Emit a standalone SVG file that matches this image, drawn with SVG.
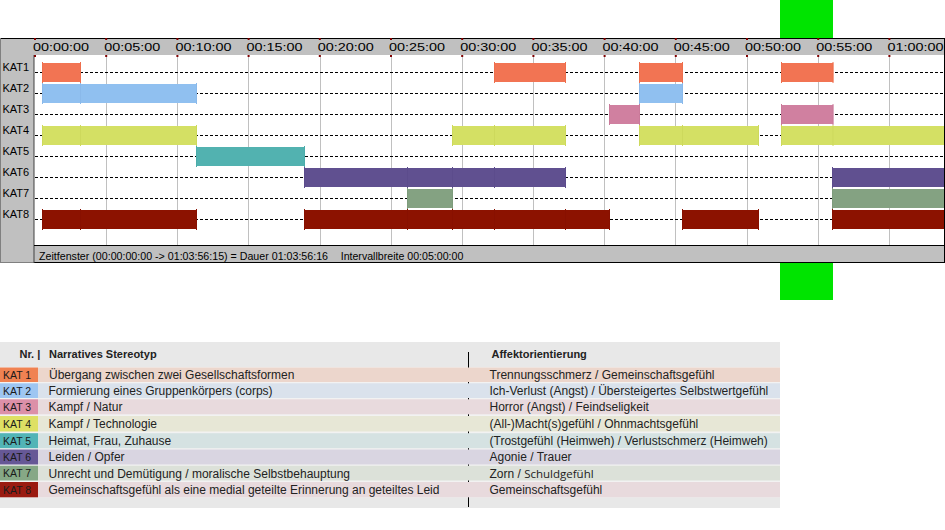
<svg xmlns="http://www.w3.org/2000/svg" width="945" height="530" viewBox="0 0 945 530">
<style>
.t{font-family:"Liberation Sans",Arial,sans-serif;font-size:11px;fill:#000}
.grid{stroke:#c0c0c0;stroke-width:1}
.row{stroke:#000;stroke-width:1;stroke-dasharray:3 2}
.tick{fill:#800000}
.k1 rect{fill:#f27453}.k1 line{stroke:#ee6e4c}
.k2 rect{fill:#90c0f0}.k2 line{stroke:#8ab9ea}
.k3 rect{fill:#d080a0}.k3 line{stroke:#ca7a9a}
.k4 rect{fill:#d4e064}.k4 line{stroke:#cdd95c}
.k5 rect{fill:#52b2b0}.k5 line{stroke:#4cacaa}
.k6 rect{fill:#605090}.k6 line{stroke:#5c4c8c}
.k7 rect{fill:#84a282}.k7 line{stroke:#7e9c7c}
.k8 rect{fill:#8c1200}.k8 line{stroke:#881000}
.bars line{stroke-width:1}
.lg{font-family:"Liberation Sans",Arial,sans-serif;font-size:12px;fill:#222}
.lh{font-family:"Liberation Sans",Arial,sans-serif;font-size:11px;font-weight:bold;fill:#222}
.lk{font-family:"Liberation Sans",Arial,sans-serif;font-size:10.5px;fill:#1a1a1a}
</style>

<rect id="green-marker" x="780" y="0" width="53" height="300" fill="#00e400"/>

<g id="timeline-panel">
  <rect x="0" y="38" width="945" height="225" fill="#c0c0c0"/>
  <rect x="34" y="55" width="910" height="190.5" fill="#fff"/>
  <line x1="0" y1="38.5" x2="945" y2="38.5" stroke="#000"/>
  <line x1="944.5" y1="38" x2="944.5" y2="263" stroke="#000"/>
  <line x1="34" y1="262.5" x2="945" y2="262.5" stroke="#000"/>
  <line x1="0" y1="262.5" x2="34" y2="262.5" stroke="#808080"/>
  <line x1="0.5" y1="38" x2="0.5" y2="263" stroke="#808080"/>
  <line x1="34" y1="55" x2="34" y2="263" stroke="#404040"/>
  <line x1="34" y1="245.5" x2="945" y2="245.5" stroke="#000"/>
</g>

<g id="gridlines" class="grid">
  <line x1="106.5" y1="55" x2="106.5" y2="245"/>
  <line x1="177.5" y1="55" x2="177.5" y2="245"/>
  <line x1="248.5" y1="55" x2="248.5" y2="245"/>
  <line x1="320.5" y1="55" x2="320.5" y2="245"/>
  <line x1="391.5" y1="55" x2="391.5" y2="245"/>
  <line x1="462.5" y1="55" x2="462.5" y2="245"/>
  <line x1="533.5" y1="55" x2="533.5" y2="245"/>
  <line x1="604.5" y1="55" x2="604.5" y2="245"/>
  <line x1="675.5" y1="55" x2="675.5" y2="245"/>
  <line x1="747.5" y1="55" x2="747.5" y2="245"/>
  <line x1="818.5" y1="55" x2="818.5" y2="245"/>
  <line x1="889.5" y1="55" x2="889.5" y2="245"/>
</g>

<g id="time-ticks" class="tick">
  <rect x="34" y="38" width="2" height="2"/><rect x="34" y="55" width="2" height="2"/>
  <rect x="105.2" y="38" width="2" height="2"/><rect x="105.2" y="55" width="2" height="2"/>
  <rect x="176.4" y="38" width="2" height="2"/><rect x="176.4" y="55" width="2" height="2"/>
  <rect x="247.6" y="38" width="2" height="2"/><rect x="247.6" y="55" width="2" height="2"/>
  <rect x="318.8" y="38" width="2" height="2"/><rect x="318.8" y="55" width="2" height="2"/>
  <rect x="390" y="38" width="2" height="2"/><rect x="390" y="55" width="2" height="2"/>
  <rect x="461.2" y="38" width="2" height="2"/><rect x="461.2" y="55" width="2" height="2"/>
  <rect x="532.4" y="38" width="2" height="2"/><rect x="532.4" y="55" width="2" height="2"/>
  <rect x="603.6" y="38" width="2" height="2"/><rect x="603.6" y="55" width="2" height="2"/>
  <rect x="674.8" y="38" width="2" height="2"/><rect x="674.8" y="55" width="2" height="2"/>
  <rect x="746" y="38" width="2" height="2"/><rect x="746" y="55" width="2" height="2"/>
  <rect x="817.2" y="38" width="2" height="2"/><rect x="817.2" y="55" width="2" height="2"/>
  <rect x="888.4" y="38" width="2" height="2"/><rect x="888.4" y="55" width="2" height="2"/>
</g>

<g id="time-labels" class="t">
  <text x="33" y="51" textLength="56" lengthAdjust="spacingAndGlyphs">00:00:00</text>
  <text x="104.2" y="51" textLength="56" lengthAdjust="spacingAndGlyphs">00:05:00</text>
  <text x="175.4" y="51" textLength="56" lengthAdjust="spacingAndGlyphs">00:10:00</text>
  <text x="246.6" y="51" textLength="56" lengthAdjust="spacingAndGlyphs">00:15:00</text>
  <text x="317.8" y="51" textLength="56" lengthAdjust="spacingAndGlyphs">00:20:00</text>
  <text x="389" y="51" textLength="56" lengthAdjust="spacingAndGlyphs">00:25:00</text>
  <text x="460.2" y="51" textLength="56" lengthAdjust="spacingAndGlyphs">00:30:00</text>
  <text x="531.4" y="51" textLength="56" lengthAdjust="spacingAndGlyphs">00:35:00</text>
  <text x="602.6" y="51" textLength="56" lengthAdjust="spacingAndGlyphs">00:40:00</text>
  <text x="673.8" y="51" textLength="56" lengthAdjust="spacingAndGlyphs">00:45:00</text>
  <text x="745" y="51" textLength="56" lengthAdjust="spacingAndGlyphs">00:50:00</text>
  <text x="816.2" y="51" textLength="56" lengthAdjust="spacingAndGlyphs">00:55:00</text>
  <text x="887.4" y="51" textLength="56" lengthAdjust="spacingAndGlyphs">01:00:00</text>
</g>

<g id="row-labels" class="t">
  <text x="2.5" y="71">KAT1</text>
  <text x="2.5" y="92">KAT2</text>
  <text x="2.5" y="113">KAT3</text>
  <text x="2.5" y="134">KAT4</text>
  <text x="2.5" y="155">KAT5</text>
  <text x="2.5" y="176">KAT6</text>
  <text x="2.5" y="197">KAT7</text>
  <text x="2.5" y="218">KAT8</text>
</g>

<g id="row-lines" class="row">
  <line x1="35" y1="72.5" x2="944" y2="72.5"/>
  <line x1="35" y1="93.5" x2="944" y2="93.5"/>
  <line x1="35" y1="114.5" x2="944" y2="114.5"/>
  <line x1="35" y1="135.5" x2="944" y2="135.5"/>
  <line x1="35" y1="156.5" x2="944" y2="156.5"/>
  <line x1="35" y1="177.5" x2="944" y2="177.5"/>
  <line x1="35" y1="198.5" x2="944" y2="198.5"/>
  <line x1="35" y1="219.5" x2="944" y2="219.5"/>
</g>

<g id="bars" class="bars">
  <g id="kat1-bars" class="k1">
    <rect x="42" y="63" width="38.7" height="19"/>
    <rect x="494.3" y="63" width="71.4" height="19"/>
    <rect x="639.5" y="63" width="43" height="19"/>
    <rect x="781.3" y="63" width="52" height="19"/>
    <line x1="42.5" y1="62" x2="42.5" y2="83"/><line x1="80.5" y1="62" x2="80.5" y2="83"/>
    <line x1="494.5" y1="62" x2="494.5" y2="83"/><line x1="565.5" y1="62" x2="565.5" y2="83"/>
    <line x1="639.5" y1="62" x2="639.5" y2="83"/><line x1="682.5" y1="62" x2="682.5" y2="83"/>
    <line x1="781.5" y1="62" x2="781.5" y2="83"/><line x1="833" y1="62" x2="833" y2="83"/>
  </g>
  <g id="kat2-bars" class="k2">
    <rect x="42" y="84" width="154.7" height="19"/>
    <rect x="639.5" y="84" width="43" height="19"/>
    <line x1="42.5" y1="83" x2="42.5" y2="104"/><line x1="80.5" y1="83" x2="80.5" y2="104"/>
    <line x1="196.5" y1="83" x2="196.5" y2="104"/>
    <line x1="639.5" y1="83" x2="639.5" y2="104"/><line x1="682.5" y1="83" x2="682.5" y2="104"/>
  </g>
  <g id="kat3-bars" class="k3">
    <rect x="609.5" y="105" width="30" height="19"/>
    <rect x="781.3" y="105" width="52" height="19"/>
    <line x1="609.5" y1="104" x2="609.5" y2="125"/><line x1="639.5" y1="104" x2="639.5" y2="125"/>
    <line x1="781.5" y1="104" x2="781.5" y2="125"/><line x1="833" y1="104" x2="833" y2="125"/>
  </g>
  <g id="kat4-bars" class="k4">
    <rect x="42" y="126" width="154.7" height="19"/>
    <rect x="452.3" y="126" width="113.4" height="19"/>
    <rect x="639.5" y="126" width="119.2" height="19"/>
    <rect x="781.3" y="126" width="162.7" height="19"/>
    <line x1="42.5" y1="125" x2="42.5" y2="146"/><line x1="80.5" y1="125" x2="80.5" y2="146"/>
    <line x1="196.5" y1="125" x2="196.5" y2="146"/>
    <line x1="452.5" y1="125" x2="452.5" y2="146"/><line x1="494.5" y1="125" x2="494.5" y2="146"/>
    <line x1="565.5" y1="125" x2="565.5" y2="146"/>
    <line x1="639.5" y1="125" x2="639.5" y2="146"/><line x1="682.5" y1="125" x2="682.5" y2="146"/>
    <line x1="758.5" y1="125" x2="758.5" y2="146"/>
    <line x1="781.5" y1="125" x2="781.5" y2="146"/><line x1="833" y1="125" x2="833" y2="146"/>
  </g>
  <g id="kat5-bars" class="k5">
    <rect x="196.5" y="147" width="108" height="19"/>
    <line x1="196.5" y1="146" x2="196.5" y2="167"/><line x1="304.5" y1="146" x2="304.5" y2="167"/>
  </g>
  <g id="kat6-bars" class="k6">
    <rect x="304.3" y="168" width="261.4" height="19"/>
    <rect x="832.5" y="168" width="111.5" height="19"/>
    <line x1="304.5" y1="167" x2="304.5" y2="188"/><line x1="407.5" y1="167" x2="407.5" y2="188"/>
    <line x1="452.5" y1="167" x2="452.5" y2="188"/><line x1="494.5" y1="167" x2="494.5" y2="188"/>
    <line x1="565.5" y1="167" x2="565.5" y2="188"/><line x1="832.5" y1="167" x2="832.5" y2="188"/>
  </g>
  <g id="kat7-bars" class="k7">
    <rect x="407.3" y="189" width="45" height="19"/>
    <rect x="832.5" y="189" width="111.5" height="19"/>
    <line x1="407.5" y1="188" x2="407.5" y2="209"/><line x1="452.5" y1="188" x2="452.5" y2="209"/>
    <line x1="832.5" y1="188" x2="832.5" y2="209"/>
  </g>
  <g id="kat8-bars" class="k8">
    <rect x="42" y="210" width="154.7" height="19"/>
    <rect x="304.3" y="210" width="305.4" height="19"/>
    <rect x="682.3" y="210" width="76.4" height="19"/>
    <rect x="832.5" y="210" width="111.5" height="19"/>
    <line x1="42.5" y1="209" x2="42.5" y2="230"/><line x1="80.5" y1="209" x2="80.5" y2="230"/>
    <line x1="196.5" y1="209" x2="196.5" y2="230"/>
    <line x1="304.5" y1="209" x2="304.5" y2="230"/><line x1="407.5" y1="209" x2="407.5" y2="230"/>
    <line x1="452.5" y1="209" x2="452.5" y2="230"/><line x1="494.5" y1="209" x2="494.5" y2="230"/>
    <line x1="565.5" y1="209" x2="565.5" y2="230"/><line x1="609.5" y1="209" x2="609.5" y2="230"/>
    <line x1="682.5" y1="209" x2="682.5" y2="230"/><line x1="758.5" y1="209" x2="758.5" y2="230"/>
    <line x1="832.5" y1="209" x2="832.5" y2="230"/>
  </g>
</g>

<g id="status-bar" class="t">
  <text x="39" y="260" textLength="289" lengthAdjust="spacingAndGlyphs">Zeitfenster (00:00:00:00 -&gt; 01:03:56:15) = Dauer 01:03:56:16</text>
  <text x="340.7" y="260" textLength="122.6" lengthAdjust="spacingAndGlyphs">Intervallbreite 00:05:00:00</text>
</g>

<g id="legend">
  <rect x="0" y="342" width="780" height="166" fill="#e8e8e8"/>
  <rect x="0" y="367" width="780" height="130.5" fill="#f2f2f2"/>
  <g id="legend-header" class="lh">
    <text x="19.5" y="358">Nr. |</text>
    <text x="49" y="358">Narratives Stereotyp</text>
    <text x="491.5" y="358">Affektorientierung</text>
  </g>
  <line x1="468.5" y1="352" x2="468.5" y2="507" stroke="#000" stroke-width="1"/>

  <g id="legend-kat1">
    <rect x="38" y="367.5" width="742" height="14.5" fill="#ecd6cc"/>
    <rect x="0" y="367.5" width="38" height="14.5" fill="#f08252"/>
    <text class="lk" x="3" y="378.5">KAT 1</text>
    <text class="lg" x="49" y="379">Übergang zwischen zwei Gesellschaftsformen</text>
    <text class="lg" x="489.5" y="379">Trennungsschmerz / Gemeinschaftsgefühl</text>
  </g>
  <g id="legend-kat2">
    <rect x="38" y="383.3" width="742" height="14.7" fill="#dae2ec"/>
    <rect x="0" y="383.3" width="38" height="14.7" fill="#9ec6f2"/>
    <text class="lk" x="3" y="394.8">KAT 2</text>
    <text class="lg" x="48.5" y="395">Formierung eines Gruppenkörpers (corps)</text>
    <text class="lg" x="489.5" y="395">Ich-Verlust (Angst) / Übersteigertes Selbstwertgefühl</text>
  </g>
  <g id="legend-kat3">
    <rect x="38" y="399.3" width="742" height="15" fill="#e8dadd"/>
    <rect x="0" y="399.3" width="38" height="15" fill="#dc90a8"/>
    <text class="lk" x="3" y="411">KAT 3</text>
    <text class="lg" x="48.5" y="411">Kampf / Natur</text>
    <text class="lg" x="489.5" y="411">Horror (Angst) / Feindseligkeit</text>
  </g>
  <g id="legend-kat4">
    <rect x="38" y="416" width="742" height="15.5" fill="#e7e7d6"/>
    <rect x="0" y="416" width="38" height="15.5" fill="#dee064"/>
    <text class="lk" x="3" y="428">KAT 4</text>
    <text class="lg" x="48.5" y="428.3">Kampf / Technologie</text>
    <text class="lg" x="489.5" y="428.3">(All-)Macht(s)gefühl / Ohnmachtsgefühl</text>
  </g>
  <g id="legend-kat5">
    <rect x="38" y="433.2" width="742" height="15" fill="#d5e2e2"/>
    <rect x="0" y="433.2" width="38" height="15" fill="#52b4b6"/>
    <text class="lk" x="3" y="444.8">KAT 5</text>
    <text class="lg" x="48.5" y="445">Heimat, Frau, Zuhause</text>
    <text class="lg" x="489.5" y="445">(Trostgefühl (Heimweh) / Verlustschmerz (Heimweh)</text>
  </g>
  <g id="legend-kat6">
    <rect x="38" y="449.5" width="742" height="15" fill="#d9d5e1"/>
    <rect x="0" y="449.5" width="38" height="15" fill="#665896"/>
    <text class="lk" x="3" y="461">KAT 6</text>
    <text class="lg" x="48.5" y="461">Leiden / Opfer</text>
    <text class="lg" x="489.5" y="461">Agonie / Trauer</text>
  </g>
  <g id="legend-kat7">
    <rect x="38" y="465.7" width="742" height="14.8" fill="#dce1d9"/>
    <rect x="0" y="465.7" width="38" height="14.8" fill="#86a886"/>
    <text class="lk" x="3" y="477.3">KAT 7</text>
    <text class="lg" x="48.5" y="477.5">Unrecht und Demütigung / moralische Selbstbehauptung</text>
    <text class="lg" x="489.5" y="477.5">Zorn / <tspan style="font-family:'Open Sans','DejaVu Sans',sans-serif;font-size:11.5px">Schuldgefühl</tspan></text>
  </g>
  <g id="legend-kat8">
    <rect x="38" y="482" width="742" height="15.3" fill="#e8dadd"/>
    <rect x="0" y="482" width="38" height="15.3" fill="#9a1a10"/>
    <text class="lk" x="3" y="493.8">KAT 8</text>
    <text class="lg" x="48.5" y="494">Gemeinschaftsgefühl als eine medial geteilte Erinnerung an geteiltes Leid</text>
    <text class="lg" x="489.5" y="494">Gemeinschaftsgefühl</text>
  </g>
</g>

<g id="connectors"/>
</svg>
